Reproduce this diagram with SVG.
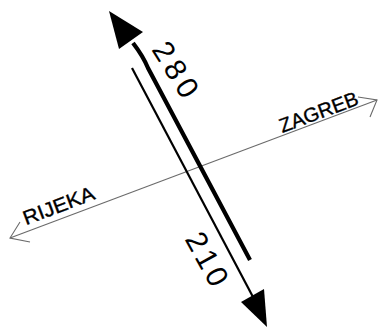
<svg xmlns="http://www.w3.org/2000/svg" width="378" height="328" viewBox="0 0 378 328">
<style>
.road{fill:none;stroke:#6a6a6a;stroke-width:1.1}
.lbl{font-family:"Liberation Sans",Arial,sans-serif;fill:#000}
.num{font-family:"Liberation Sans",Arial,sans-serif;fill:#000;font-size:30px}
.city{font-size:20px;stroke:#000;stroke-width:0.35}
</style>
<rect width="378" height="328" fill="#fff"/>
<g id="connectors">
<g id="road">
<line class="road" x1="10" y1="238" x2="377" y2="100"/>
<polyline class="road" points="20,222 10,238 30,242"/>
<polyline class="road" points="358,97 377,100 370,117"/>
</g>
<g id="arrow-280">
<path d="M133,43 Q143,56 148,68 L250,260" fill="none" stroke="#000" stroke-width="4.2"/>
<polygon points="109,11 119,49 143,32" fill="#000"/>
</g>
<g id="arrow-210">
<line x1="132" y1="68" x2="253" y2="297" stroke="#000" stroke-width="2.2"/>
<polygon points="267,327 241,302 264,289" fill="#000"/>
</g>
</g>
<g id="label-280"><text class="num" x="167" y="75" text-anchor="middle" textLength="60" lengthAdjust="spacing" transform="rotate(58 167 75)">280</text></g>
<g id="label-210"><text class="num" x="198" y="264" text-anchor="middle" textLength="57" lengthAdjust="spacing" transform="rotate(61 198 264)">210</text></g>
<g id="zagreb"><text class="lbl city" x="321" y="118.5" text-anchor="middle" textLength="83" lengthAdjust="spacingAndGlyphs" transform="rotate(-20.6 321 118.5)">ZAGREB</text></g>
<g id="rijeka"><text class="lbl city" x="61" y="212" text-anchor="middle" textLength="75" lengthAdjust="spacingAndGlyphs" transform="rotate(-20.6 61 212)">RIJEKA</text></g>
</svg>
